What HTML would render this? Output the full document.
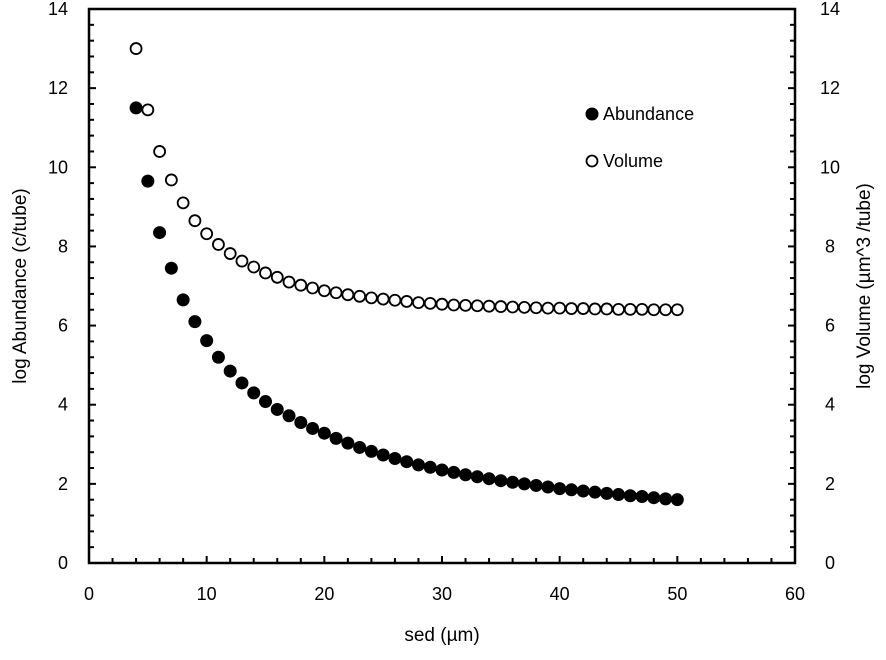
<!DOCTYPE html>
<html><head><meta charset="utf-8"><style>
body{margin:0;background:#fff}
svg text{font-family:"Liberation Sans",sans-serif;fill:#000}
</style></head><body>
<svg width="886" height="655">
<g id="axes"></g><g id="marks"></g>
<g>
<circle cx="592" cy="114" r="6.5" fill="#000"/>
<text x="603" y="120" font-size="18">Abundance</text>
<circle cx="592" cy="161" r="5.5" fill="#fff" stroke="#000" stroke-width="1.8"/>
<text x="603" y="167" font-size="18">Volume</text>
</g>
<text x="442" y="641" font-size="19" text-anchor="middle">sed (µm)</text>
<text transform="translate(26,286) rotate(-90)" font-size="19" text-anchor="middle">log Abundance  (c/tube)</text>
<text transform="translate(870,286) rotate(-90)" font-size="19" text-anchor="middle">log Volume (µm^3 /tube)</text>
</svg>
<script>
const xs=[4,5,6,7,8,9,10,11,12,13,14,15,16,17,18,19,20,21,22,23,24,25,26,27,28,29,30,31,32,33,34,35,36,37,38,39,40,41,42,43,44,45,46,47,48,49,50];
const abundance=[11.5,9.65,8.35,7.45,6.65,6.1,5.62,5.2,4.85,4.55,4.3,4.08,3.88,3.72,3.55,3.4,3.28,3.15,3.03,2.92,2.82,2.73,2.64,2.56,2.48,2.42,2.35,2.29,2.23,2.18,2.13,2.08,2.04,2.0,1.96,1.92,1.88,1.85,1.82,1.79,1.76,1.73,1.7,1.68,1.65,1.62,1.6];
const volume=[13.0,11.45,10.4,9.68,9.1,8.65,8.32,8.05,7.82,7.63,7.48,7.33,7.22,7.1,7.02,6.95,6.88,6.83,6.78,6.74,6.7,6.67,6.64,6.61,6.58,6.56,6.54,6.52,6.51,6.5,6.49,6.48,6.47,6.46,6.45,6.44,6.44,6.43,6.43,6.42,6.42,6.41,6.41,6.41,6.4,6.4,6.4];
const xTicks=[0,10,20,30,40,50,60];
const yTicks=[0,2,4,6,8,10,12,14];
const X0=89,X1=795,Y0=563,Y1=9;
const sx=v=>X0+(v-0)/60*(X1-X0);
const sy=v=>Y0-(v-0)/14*(Y0-Y1);
const NS='http://www.w3.org/2000/svg';
const ax=document.getElementById('axes'),mk=document.getElementById('marks');
function el(t,a,p){const e=document.createElementNS(NS,t);for(const k in a)e.setAttribute(k,a[k]);p.appendChild(e);return e;}
let f=el('path',{d:`M${X0},${Y1}H${X1}V${Y0}H${X0}Z`,fill:'none',stroke:'#000','stroke-width':2.5},ax);


for(let v=0;v<=60;v+=2){const big=v%10===0;const l=el('line',{x1:sx(v),x2:sx(v),y1:Y0,y2:Y0-(big?7:5),stroke:'#000','stroke-width':2},ax);

}
for(let i=0;i<=35;i++){const v=i*0.4;const big=i%5===0;
for(const side of [0,1]){const x=side?X1:X0;const d=big?7:5;const l=el('line',{x1:x,x2:side?x-d:x+d,y1:sy(v),y2:sy(v),stroke:'#000','stroke-width':2},ax);

}}
xTicks.forEach(v=>{const t=el('text',{x:sx(v),y:600,'font-size':18,'text-anchor':'middle'},ax);t.textContent=v;

});
yTicks.forEach(v=>{let t=el('text',{x:68,y:sy(v)+6,'font-size':18,'text-anchor':'end'},ax);t.textContent=v;


t=el('text',{x:830,y:sy(v)+6,'font-size':18,'text-anchor':'middle'},ax);t.textContent=v;

});
xs.forEach((x,i)=>{let c=el('circle',{cx:sx(x),cy:sy(volume[i]),r:5.5,fill:'#fff',stroke:'#000','stroke-width':1.8},mk);


c=el('circle',{cx:sx(x),cy:sy(abundance[i]),r:6.5,fill:'#000'},mk);

});
</script>
</body></html>
